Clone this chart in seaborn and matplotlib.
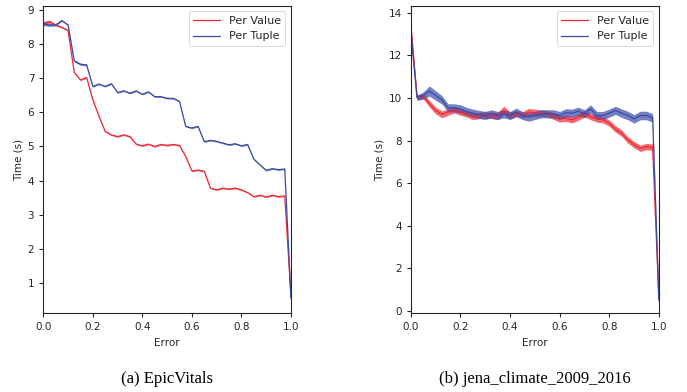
import numpy as np
import pandas as pd
import matplotlib
matplotlib.use("Agg")
import matplotlib.pyplot as plt
import seaborn as sns

# Eje x comun: error de 0 a 1 en pasos de 0.025
error = [round(i * 0.025, 3) for i in range(41)]

# (a) EpicVitals
epic_per_value = [8.61, 8.66, 8.56, 8.49, 8.40, 7.17, 6.95, 7.02, 6.37, 5.88,
                  5.44, 5.34, 5.29, 5.34, 5.29, 5.07, 5.02, 5.07, 5.00, 5.06,
                  5.03, 5.06, 5.03, 4.71, 4.28, 4.31, 4.27, 3.78, 3.73, 3.78,
                  3.75, 3.78, 3.73, 3.65, 3.53, 3.57, 3.52, 3.57, 3.53, 3.55,
                  0.61]
epic_per_tuple = [8.59, 8.56, 8.56, 8.69, 8.56, 7.51, 7.41, 7.39, 6.76, 6.83,
                  6.76, 6.84, 6.58, 6.63, 6.56, 6.63, 6.53, 6.60, 6.46, 6.46,
                  6.41, 6.41, 6.32, 5.59, 5.54, 5.59, 5.14, 5.18, 5.15, 5.10,
                  5.05, 5.08, 5.02, 5.06, 4.63, 4.46, 4.30, 4.35, 4.32, 4.34,
                  0.55]
epic_band_value = [0.05, 0.04, 0.03, 0.02, 0.02, 0.02, 0.02, 0.02, 0.02, 0.02,
                   0.02, 0.02, 0.02, 0.02, 0.02, 0.02, 0.02, 0.02, 0.02, 0.02,
                   0.02, 0.02, 0.02, 0.02, 0.02, 0.02, 0.02, 0.02, 0.02, 0.02,
                   0.02, 0.02, 0.02, 0.02, 0.02, 0.02, 0.02, 0.02, 0.02, 0.02,
                   0.05]
epic_band_tuple = [0.05, 0.04, 0.03, 0.02, 0.02, 0.03, 0.03, 0.03, 0.02, 0.02,
                   0.02, 0.02, 0.02, 0.02, 0.02, 0.02, 0.02, 0.02, 0.02, 0.02,
                   0.02, 0.02, 0.02, 0.02, 0.02, 0.02, 0.02, 0.02, 0.02, 0.02,
                   0.02, 0.02, 0.02, 0.02, 0.02, 0.02, 0.02, 0.02, 0.02, 0.02,
                   0.05]

# (b) jena_climate_2009_2016
jena_per_value = [13.36, 10.04, 10.08, 9.73, 9.42, 9.23, 9.34, 9.45, 9.34, 9.26,
                  9.13, 9.18, 9.21, 9.18, 9.15, 9.42, 9.18, 9.26, 9.21, 9.34,
                  9.31, 9.29, 9.26, 9.15, 9.02, 9.05, 8.98, 9.10, 9.26, 9.13,
                  9.02, 8.98, 8.82, 8.55, 8.35, 8.03, 7.81, 7.64, 7.72, 7.69,
                  0.60]
jena_per_tuple = [13.10, 10.01, 10.12, 10.33, 10.12, 9.92, 9.54, 9.54, 9.49, 9.37,
                  9.29, 9.23, 9.18, 9.26, 9.18, 9.26, 9.18, 9.34, 9.18, 9.10,
                  9.18, 9.26, 9.26, 9.26, 9.18, 9.31, 9.29, 9.38, 9.26, 9.49,
                  9.18, 9.18, 9.29, 9.42, 9.29, 9.18, 9.02, 9.18, 9.18, 9.07,
                  0.50]
jena_band_value = [0.25, 0.12, 0.12, 0.15, 0.16, 0.16, 0.15, 0.15, 0.15, 0.15,
                   0.15, 0.15, 0.15, 0.15, 0.17, 0.20, 0.17, 0.15, 0.15, 0.17,
                   0.17, 0.15, 0.15, 0.15, 0.15, 0.15, 0.15, 0.15, 0.15, 0.15,
                   0.15, 0.15, 0.15, 0.15, 0.15, 0.15, 0.15, 0.15, 0.15, 0.15,
                   0.25]
jena_band_tuple = [0.25, 0.12, 0.17, 0.24, 0.22, 0.20, 0.19, 0.19, 0.19, 0.19,
                   0.19, 0.19, 0.19, 0.19, 0.19, 0.19, 0.19, 0.19, 0.19, 0.19,
                   0.19, 0.19, 0.19, 0.19, 0.19, 0.19, 0.19, 0.19, 0.19, 0.19,
                   0.19, 0.19, 0.19, 0.19, 0.20, 0.20, 0.20, 0.20, 0.20, 0.20,
                   0.25]

series_names = ["Per Value", "Per Tuple"]
colores = {"Per Value": "#ef2b36", "Per Tuple": "#3b4ba8"}
captions = ["(a) EpicVitals", "(b) jena_climate_2009_2016"]

sns.set_style("ticks")

fig = plt.figure(figsize=(6.87, 3.92), dpi=100)
ax1 = fig.add_axes([0.063, 0.2015, 0.3605, 0.7835])
ax2 = fig.add_axes([0.598, 0.2015, 0.361, 0.7835])

paneles = [
    (ax1, epic_per_value, epic_per_tuple, epic_band_value, epic_band_tuple, (0.12, 9.12)),
    (ax2, jena_per_value, jena_per_tuple, jena_band_value, jena_band_tuple, (-0.1, 14.33)),
]

for i, (ax, pv, pt, bv, bt, ylim) in enumerate(paneles):
    df = pd.DataFrame({
        "Error": error * 2,
        "Time (s)": pv + pt,
        "banda": bv + bt,
        "serie": [series_names[0]] * len(error) + [series_names[1]] * len(error),
    })
    sns.lineplot(data=df, x="Error", y="Time (s)", hue="serie",
                 palette=colores, linewidth=0.9, ax=ax)
    # Bandas de confianza
    for nombre in series_names:
        sub = df[df["serie"] == nombre]
        ax.fill_between(sub["Error"], sub["Time (s)"] - sub["banda"],
                        sub["Time (s)"] + sub["banda"],
                        color=colores[nombre], alpha=0.7, linewidth=0)
    ax.set_xlim(0, 1)
    ax.set_ylim(*ylim)
    ax.set_xlabel("Error", fontsize=7.5)
    ax.set_ylabel("Time (s)", fontsize=7.5, labelpad=3)
    ax.tick_params(labelsize=7.5, length=3, width=0.8)
    for s in ax.spines.values():
        s.set_linewidth(0.8)
    leg = ax.legend(loc="upper right", fontsize=8, frameon=True,
                    handlelength=2.4, borderpad=0.4)
    leg.get_frame().set_linewidth(0.6)
    ax.text(0.5, -0.188, captions[i], transform=ax.transAxes, ha="center",
            va="top", fontsize=12, family="Liberation Serif", color="black")

ax2.set_yticks([0, 2, 4, 6, 8, 10, 12, 14])

fig.savefig("out.png", dpi=100)
